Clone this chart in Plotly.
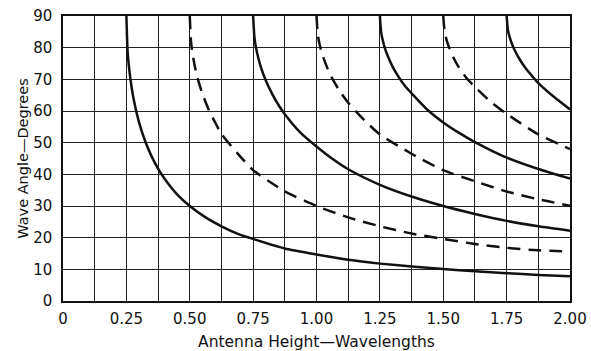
import plotly.graph_objects as go

# Antenna height (wavelengths) and wave angle (degrees)
h_max1 = [0.25, 0.255, 0.26, 0.27, 0.28, 0.30, 0.325, 0.35, 0.375, 0.40, 0.45, 0.50, 0.5625, 0.625, 0.6875, 0.75, 0.875, 1.0, 1.125, 1.25, 1.375, 1.5, 1.625, 1.75, 1.875, 2.0]
a_max1 = [90, 78.6, 74.1, 67.8, 63.2, 56.4, 50.3, 45.6, 41.8, 38.7, 33.7, 30.0, 26.4, 23.6, 21.3, 19.6, 16.6, 14.7, 13.0, 11.8, 10.9, 10.1, 9.4, 8.8, 8.2, 7.8]

h_max2 = [0.75, 0.755, 0.76, 0.77, 0.78, 0.80, 0.825, 0.85, 0.875, 0.9375, 1.0, 1.0625, 1.125, 1.25, 1.375, 1.5, 1.625, 1.75, 1.875, 2.0]
a_max2 = [90, 83.4, 80.6, 76.9, 74.0, 69.6, 65.4, 61.9, 59.0, 53.1, 48.8, 44.9, 41.6, 36.7, 33.0, 30.0, 27.5, 25.3, 23.6, 22.2]

h_max3 = [1.25, 1.255, 1.26, 1.27, 1.28, 1.30, 1.325, 1.35, 1.375, 1.4375, 1.5, 1.5625, 1.625, 1.75, 1.875, 2.0]
a_max3 = [90, 84.9, 82.8, 79.8, 77.6, 74.0, 70.6, 67.8, 65.6, 60.4, 56.4, 53.1, 50.2, 45.3, 41.7, 38.7]

h_max4 = [1.75, 1.755, 1.76, 1.77, 1.78, 1.80, 1.825, 1.85, 1.875, 1.9375, 2.0]
a_max4 = [90, 85.6, 83.9, 81.4, 79.5, 76.5, 73.5, 71.1, 68.8, 64.4, 60.5]

h_null1 = [0.50, 0.505, 0.51, 0.52, 0.53, 0.55, 0.575, 0.60, 0.625, 0.6875, 0.75, 0.8125, 0.875, 1.0, 1.125, 1.25, 1.375, 1.5, 1.625, 1.75, 1.875, 2.0]
a_null1 = [90, 81.9, 78.6, 74.1, 70.6, 65.4, 60.4, 56.4, 52.8, 46.7, 41.3, 37.8, 34.6, 30.0, 26.4, 23.6, 21.3, 19.6, 18.0, 16.8, 16.0, 15.6]

h_null2 = [1.0, 1.005, 1.01, 1.02, 1.04, 1.06, 1.09, 1.125, 1.1875, 1.25, 1.375, 1.5, 1.625, 1.75, 1.875, 2.0]
a_null2 = [90, 84.3, 81.9, 78.6, 74.1, 70.6, 66.5, 62.6, 57.2, 52.6, 46.5, 41.3, 37.8, 34.6, 32.1, 30.1]

h_null3 = [1.5, 1.505, 1.51, 1.52, 1.54, 1.56, 1.59, 1.625, 1.6875, 1.75, 1.875, 2.0]
a_null3 = [90, 85.4, 83.4, 80.7, 76.9, 74.0, 70.6, 67.6, 62.9, 59.1, 52.6, 48.0]

x_tickvals = [0, 0.25, 0.5, 0.75, 1.0, 1.25, 1.5, 1.75, 2.0]
x_ticktext = ["0", "0.25", "0.50", "0.75", "1.00", "1.25", "1.50", "1.75", "2.00"]
y_tickvals = [0, 10, 20, 30, 40, 50, 60, 70, 80, 90]

FONT = "DejaVu Sans"
fig = go.Figure()

solid = [(h_max1, a_max1), (h_max2, a_max2), (h_max3, a_max3), (h_max4, a_max4)]
dashed = [(h_null1, a_null1), (h_null2, a_null2), (h_null3, a_null3)]
for hx, ay in solid:
    fig.add_trace(go.Scatter(x=hx, y=ay, mode="lines", line=dict(color="#111111", width=2.5, shape="spline", smoothing=0.6), showlegend=False, hoverinfo="skip"))
for hx, ay in dashed:
    fig.add_trace(go.Scatter(x=hx, y=ay, mode="lines", line=dict(color="#111111", width=2.5, dash="13px,8px", shape="spline", smoothing=0.6), showlegend=False, hoverinfo="skip"))

fig.update_layout(
    width=591, height=351,
    margin=dict(l=63, r=21, t=16, b=50),
    paper_bgcolor="white", plot_bgcolor="white",
    font=dict(family=FONT, size=15, color="#111111"),
    xaxis=dict(
        range=[0, 2.0], tickvals=x_tickvals, ticktext=x_ticktext,
        showgrid=True, gridcolor="#222222", gridwidth=1,
        minor=dict(dtick=0.125, tick0=0, showgrid=True, gridcolor="#222222", gridwidth=1),
        showline=True, linecolor="#111111", linewidth=1.5, mirror=True,
        zeroline=False, ticks="", ticklabelstandoff=3, automargin=False,
        title=dict(text="Antenna Height\u2014Wavelengths", font=dict(size=15.5), standoff=12),
    ),
    yaxis=dict(
        range=[0, 90], tickvals=y_tickvals,
        showgrid=True, gridcolor="#222222", gridwidth=1,
        showline=True, linecolor="#111111", linewidth=1.5, mirror=True,
        zeroline=False, ticks="", ticklabelstandoff=6, automargin=False,
        title=dict(text="Wave Angle\u2014Degrees", font=dict(size=14.5), standoff=1),
    ),
)

fig.write_html(
    "out.html",
    config={"displayModeBar": False},
    post_script="document.body.style.margin='0';document.body.style.padding='0';document.body.style.overflow='hidden';",
)
